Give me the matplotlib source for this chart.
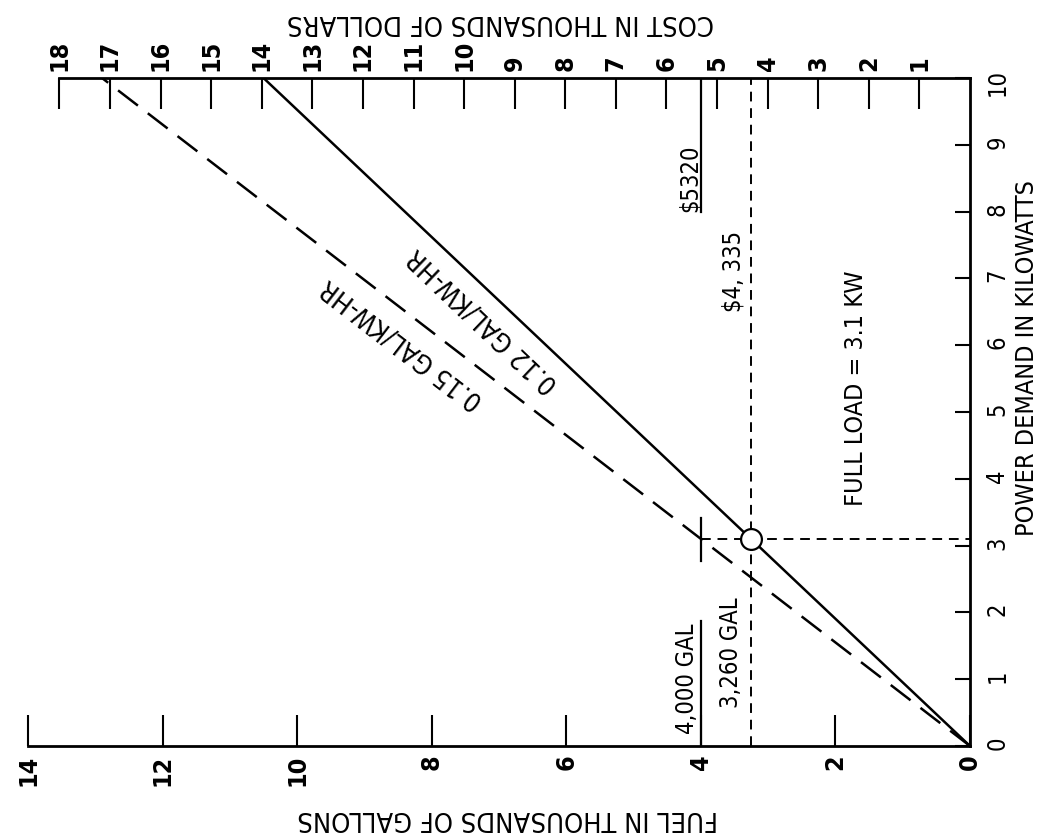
import matplotlib
matplotlib.use("Agg")
import matplotlib.pyplot as plt

# chart is drawn turned a quarter turn, like the scanned original
plt.rcParams['font.family'] = ['DejaVu Sans']
plt.rcParams['font.stretch'] = 'condensed'

power_kw = [0, 10]
fuel_012 = [0, 10.5]     # thousand gal per year at 0.12 gal/kw-hr
fuel_015 = [0, 12.9]     # thousand gal per year at 0.15 gal/kw-hr
price = 1.33             # dollars per gallon

full_load_kw = 3.1
full_load_fuel = 3.26
fuel_015_full = 4.0

fuel_ticks = [0, 2, 4, 6, 8, 10, 12, 14]
cost_ticks = list(range(1, 19))
power_ticks = list(range(0, 11))

W, H = 1045, 836
fig = plt.figure(figsize=(W / 100, H / 100), dpi=100)
ax = fig.add_axes([28 / W, 1 - 746 / H, (970 - 28) / W, (746 - 78) / H])
ax.set_xlim(14, 0)
ax.set_ylim(0, 10)

for s in ['left', 'top']:
    ax.spines[s].set_visible(False)
for s in ['bottom', 'right']:
    ax.spines[s].set_linewidth(2)

ax.set_xticks(fuel_ticks)
ax.set_xticklabels([str(t) for t in fuel_ticks], fontweight='bold')
ax.tick_params(axis='x', direction='in', length=22, width=1.5, labelrotation=90,
               labelsize=18, pad=6)
ax.yaxis.tick_right()
ax.set_yticks(power_ticks)
ax.set_yticklabels([str(t) for t in power_ticks])
ax.tick_params(axis='y', direction='in', length=11, width=1.5, labelrotation=90,
               labelsize=17, pad=11)

ax2 = ax.twiny()
ax2.set_xlim(14 * price, 0)
for s in ['left', 'right', 'bottom']:
    ax2.spines[s].set_visible(False)
ax2.spines['top'].set_linewidth(2)
ax2.spines['top'].set_bounds(0, 18)
ax2.set_xticks(cost_ticks)
ax2.set_xticklabels([str(t) for t in cost_ticks], fontweight='bold')
ax2.tick_params(axis='x', direction='in', length=22, width=1.5, labelrotation=90,
                labelsize=18, pad=5)

# consumption lines
ax.plot(fuel_012, power_kw, color='black', lw=1.8)
ax.plot(fuel_015, power_kw, color='black', lw=1.8, dashes=(10, 5))

# full load construction lines
ax.plot([full_load_fuel, full_load_fuel], [0, 10], color='black', lw=1.4, dashes=(5, 3.5))
ax.plot([fuel_015_full, 0], [full_load_kw, full_load_kw], color='black', lw=1.4, dashes=(5, 3.5))
ax.plot([fuel_015_full, fuel_015_full], [8.0, 10], color='black', lw=1.6)
ax.plot([fuel_015_full, fuel_015_full], [0, 1.87], color='black', lw=1.6)
ax.plot([fuel_015_full, fuel_015_full], [2.77, 3.41], color='black', lw=1.6)
ax.plot(full_load_fuel, full_load_kw, 'o', ms=15, mfc='white', mec='black', mew=1.6, zorder=5)

ax.text(4.17, 8.5, "$5320", rotation=90, ha='center', va='center', fontsize=17)
ax.text(3.52, 7.1, "$4, 335", rotation=90, ha='center', va='center', fontsize=17)
ax.text(4.2, 1.0, "4,000 GAL", rotation=90, ha='center', va='center', fontsize=17)
ax.text(3.55, 1.4, "3,260 GAL", rotation=90, ha='center', va='center', fontsize=17)
ax.text(1.7, 5.35, "FULL LOAD = 3.1 KW", rotation=90, ha='center', va='center', fontsize=18)
ax.text(7.23, 6.38, "0.12 GAL/KW-HR", rotation=136.4, ha='center', va='center',
        rotation_mode='anchor', fontsize=19)
ax.text(8.44, 6.03, "0.15 GAL/KW-HR", rotation=142.5, ha='center', va='center',
        rotation_mode='anchor', fontsize=19)

fig.text(501 / W, 1 - 22 / H, "COST IN THOUSANDS OF DOLLARS", rotation=180,
         ha='center', va='center', fontsize=19.5)
fig.text(508 / W, 1 - 818 / H, "FUEL IN THOUSANDS OF GALLONS", rotation=180,
         ha='center', va='center', fontsize=19.5)
fig.text(1027 / W, 1 - 358 / H, "POWER DEMAND IN KILOWATTS", rotation=90,
         ha='center', va='center', fontsize=18)

fig.savefig("out.png", dpi=100)
